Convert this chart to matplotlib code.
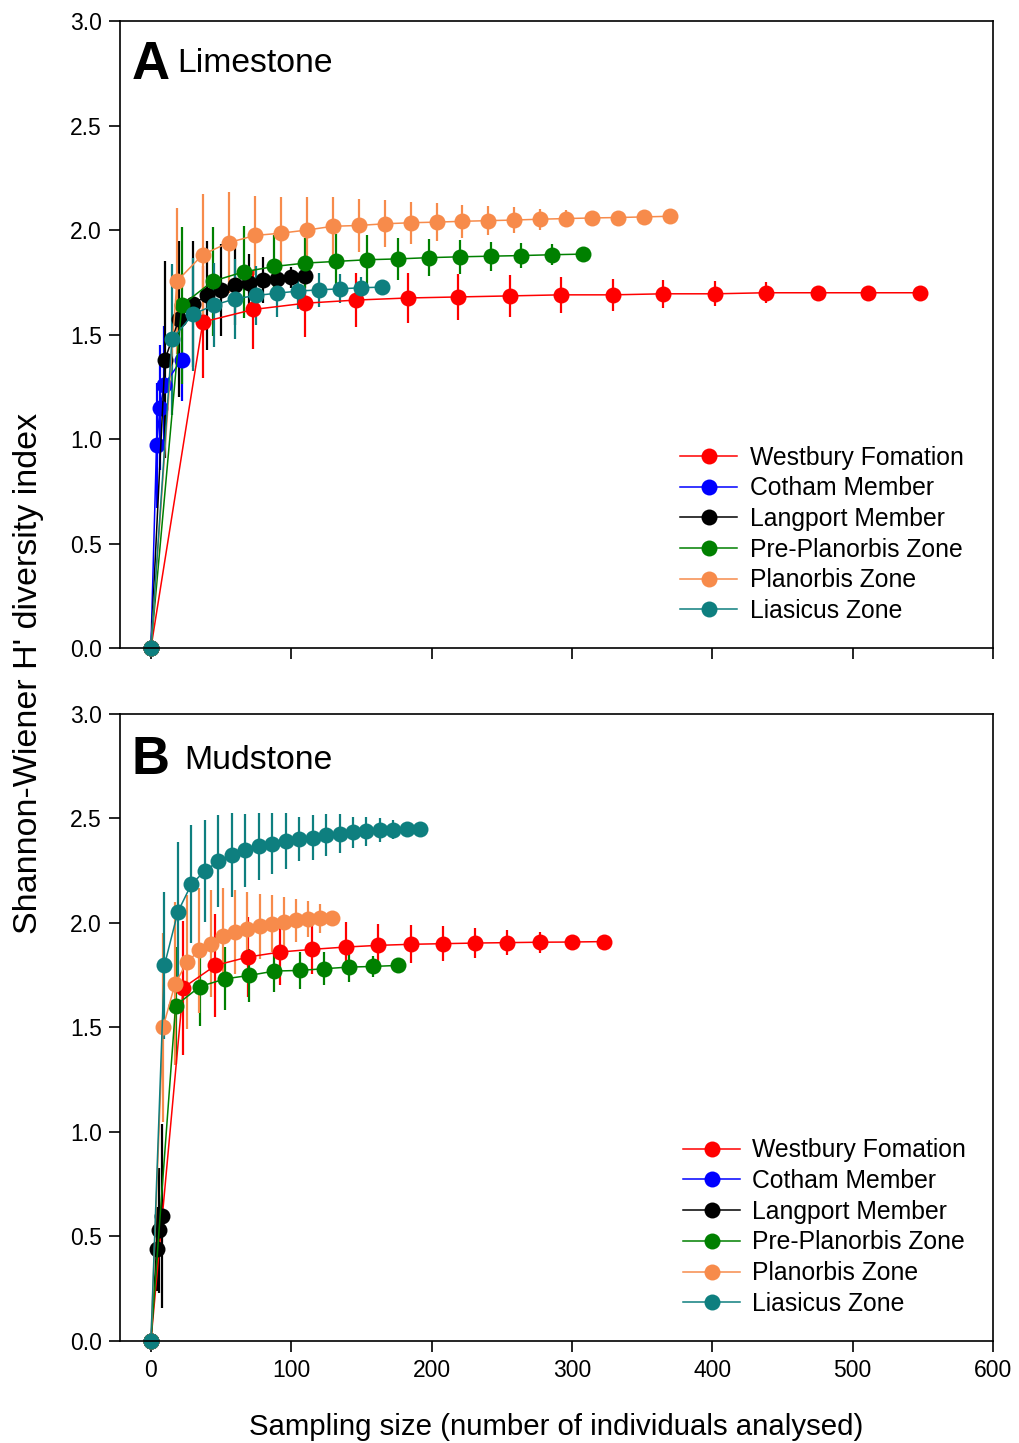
import matplotlib
matplotlib.use("Agg")
import matplotlib.pyplot as plt
from matplotlib.lines import Line2D

plt.rcParams['font.family'] = ['Liberation Sans', 'DejaVu Sans']

series_names = ["Westbury Fomation", "Cotham Member", "Langport Member",
                "Pre-Planorbis Zone", "Planorbis Zone", "Liasicus Zone"]
colors = ["#ff0000", "#0000ff", "#000000", "#008000", "#f78b4b", "#0e7f7f"]

# ---------------- Panel A: Limestone ----------------
wf_a_x = [0, 37, 73, 110, 146, 183, 219, 256, 292, 329, 365, 402, 438, 475, 511, 548]
wf_a_y = [0, 1.56, 1.62, 1.65, 1.665, 1.675, 1.68, 1.685, 1.69, 1.69, 1.695, 1.695, 1.70, 1.70, 1.70, 1.70]
wf_a_e = [0, 0.27, 0.19, 0.16, 0.13, 0.12, 0.11, 0.10, 0.085, 0.075, 0.067, 0.06, 0.05, 0.03, 0.02, 0]

cm_a_x = [0, 4, 6.5, 9.5, 22]
cm_a_y = [0, 0.97, 1.15, 1.26, 1.38]
cm_a_e = [0, 0.30, 0.30, 0.28, 0.20]

lm_a_x = [0, 10, 20, 30, 40, 50, 60, 70, 80, 90, 100, 110]
lm_a_y = [0, 1.38, 1.575, 1.647, 1.687, 1.711, 1.735, 1.746, 1.759, 1.767, 1.775, 1.778]
lm_a_e = [0, 0.47, 0.375, 0.30, 0.26, 0.22, 0.19, 0.14, 0.11, 0.08, 0.05, 0]

pp_a_x = [0, 22, 44, 66, 88, 110, 132, 154, 176, 198, 220, 242, 264, 286, 308]
pp_a_y = [0, 1.64, 1.755, 1.80, 1.826, 1.842, 1.85, 1.858, 1.862, 1.868, 1.872, 1.875, 1.878, 1.882, 1.885]
pp_a_e = [0, 0.375, 0.26, 0.22, 0.15, 0.12, 0.13, 0.12, 0.10, 0.09, 0.08, 0.07, 0.06, 0.05, 0]

pz_a_x = [0, 18.5, 37, 55.5, 74, 92.5, 111, 129.5, 148, 166.5, 185, 203.5, 222, 240.5,
          259, 277.5, 296, 314.5, 333, 351.5, 370]
pz_a_y = [0, 1.755, 1.883, 1.94, 1.974, 1.985, 2.0, 2.018, 2.022, 2.03, 2.035, 2.038, 2.042,
          2.045, 2.048, 2.052, 2.055, 2.058, 2.06, 2.063, 2.066]
pz_a_e = [0, 0.35, 0.29, 0.24, 0.19, 0.175, 0.16, 0.14, 0.128, 0.112, 0.10, 0.09, 0.08, 0.07,
          0.06, 0.05, 0.04, 0.03, 0.02, 0, 0]

lz_a_x = [0, 15, 30, 45, 60, 75, 90, 105, 120, 135, 150, 165]
lz_a_y = [0, 1.477, 1.597, 1.641, 1.671, 1.687, 1.698, 1.708, 1.714, 1.719, 1.724, 1.727]
lz_a_e = [0, 0.36, 0.27, 0.20, 0.19, 0.14, 0.115, 0.085, 0.08, 0.07, 0.05, 0]

# ---------------- Panel B: Mudstone ----------------
wf_b_x = [0, 23, 46, 69, 92, 115, 139, 162, 185, 208, 231, 254, 277, 300, 323]
wf_b_y = [0, 1.69, 1.797, 1.837, 1.861, 1.874, 1.885, 1.893, 1.898, 1.901, 1.904, 1.906, 1.908, 1.909, 1.911]
wf_b_e = [0, 0.32, 0.245, 0.19, 0.16, 0.12, 0.12, 0.10, 0.09, 0.085, 0.07, 0.06, 0.05, 0.03, 0]

cm_b_x = [0]
cm_b_y = [0]
cm_b_e = [0]

lm_b_x = [0, 4, 6, 8]
lm_b_y = [0, 0.44, 0.53, 0.60]
lm_b_e = [0, 0.20, 0.30, 0.44]

pp_b_x = [0, 17.6, 35, 53, 70, 88, 106, 123, 141, 158, 176]
pp_b_y = [0, 1.605, 1.696, 1.733, 1.749, 1.77, 1.773, 1.781, 1.789, 1.792, 1.797]
pp_b_e = [0, 0.28, 0.19, 0.15, 0.125, 0.10, 0.09, 0.08, 0.07, 0.05, 0]

pz_b_x = [0, 8.6, 17.2, 25.8, 34.4, 43, 51.6, 60.2, 68.8, 77.4, 86, 94.6, 103.2, 111.8, 120.4, 129]
pz_b_y = [0, 1.50, 1.709, 1.813, 1.869, 1.901, 1.936, 1.957, 1.973, 1.984, 1.997, 2.005, 2.013,
          2.018, 2.022, 2.026]
pz_b_e = [0, 0.45, 0.39, 0.32, 0.30, 0.256, 0.23, 0.20, 0.175, 0.156, 0.136, 0.12, 0.104,
          0.087, 0.071, 0]

lz_b_x = [0, 9.6, 19.2, 28.8, 38.4, 48, 57.6, 67.2, 76.8, 86.4, 96, 105.6, 115.2, 124.8,
          134.4, 144, 153.6, 163.2, 172.8, 182.4, 192]
lz_b_y = [0, 1.797, 2.053, 2.185, 2.249, 2.295, 2.324, 2.348, 2.367, 2.38, 2.391, 2.404, 2.409,
          2.42, 2.428, 2.433, 2.439, 2.444, 2.447, 2.449, 2.452]
lz_b_e = [0, 0.35, 0.335, 0.283, 0.246, 0.22, 0.20, 0.175, 0.16, 0.144, 0.135, 0.105, 0.107,
          0.10, 0.093, 0.073, 0.07, 0.056, 0.045, 0.03, 0]

panel_a = [(wf_a_x, wf_a_y, wf_a_e), (cm_a_x, cm_a_y, cm_a_e), (lm_a_x, lm_a_y, lm_a_e),
           (pp_a_x, pp_a_y, pp_a_e), (pz_a_x, pz_a_y, pz_a_e), (lz_a_x, lz_a_y, lz_a_e)]
panel_b = [(wf_b_x, wf_b_y, wf_b_e), (cm_b_x, cm_b_y, cm_b_e), (lm_b_x, lm_b_y, lm_b_e),
           (pp_b_x, pp_b_y, pp_b_e), (pz_b_x, pz_b_y, pz_b_e), (lz_b_x, lz_b_y, lz_b_e)]

x_ticks = [0, 100, 200, 300, 400, 500, 600]
y_ticks = [0.0, 0.5, 1.0, 1.5, 2.0, 2.5, 3.0]

MS = 11.5

fig = plt.figure(figsize=(10.19, 14.43), dpi=100)
ax_a = fig.add_axes([0.1178, 0.5509, 0.8567, 0.4345])
ax_b = fig.add_axes([0.1178, 0.0707, 0.8567, 0.4345])


def draw(ax, data, letter, title, letter_y, title_x, title_y, show_xlabels, leg_anchor):
    handles = []
    for (x, y, e), c, name in zip(data, colors, series_names):
        ax.errorbar(x, y, yerr=e, color=c, ecolor=c, elinewidth=1.6, capsize=0,
                    marker='o', markersize=MS, markeredgewidth=0, linewidth=1.1,
                    clip_on=False)
        handles.append(Line2D([], [], color=c, marker='o', markersize=MS,
                              markeredgewidth=0, linewidth=1.1, label=name))
    ax.set_xlim(-22, 600)
    ax.set_ylim(0, 3.0)
    ax.set_xticks(x_ticks)
    ax.set_yticks(y_ticks)
    ax.set_yticklabels([f"{v:.1f}" for v in y_ticks])
    if show_xlabels:
        ax.set_xticklabels([str(v) for v in x_ticks])
    else:
        ax.set_xticklabels([])
    ax.tick_params(direction='out', length=8, width=1.2, labelsize=16.5, pad=5)
    for s in ax.spines.values():
        s.set_linewidth(1.2)
    ax.text(0.013, letter_y, letter, transform=ax.transAxes, fontsize=38, fontweight='bold',
            va='baseline', ha='left')
    ax.text(title_x, title_y, title, transform=ax.transAxes, fontsize=24.3,
            va='baseline', ha='left')
    ax.legend(handles=handles, loc='upper left', bbox_to_anchor=leg_anchor,
              frameon=False, fontsize=17.8, handlelength=2.3, handletextpad=0.5,
              labelspacing=0.27, borderpad=0, borderaxespad=0)


draw(ax_a, panel_a, "A", "Limestone", 0.907, 0.065, 0.919, False, (0.642, 0.323))
draw(ax_b, panel_b, "B", "Mudstone", 0.904, 0.073, 0.913, True, (0.645, 0.323))
ax_b.set_xlabel("Sampling size (number of individuals analysed)", fontsize=21.2, labelpad=22)
fig.text(0.028, 0.5336, "Shannon-Wiener H' diversity index", rotation=90, fontsize=24.5,
         va='center', ha='center')

fig.savefig("out.png", dpi=100)
